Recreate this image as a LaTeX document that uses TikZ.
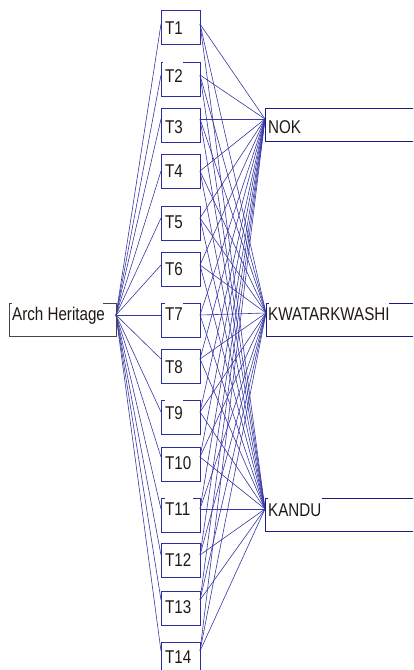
\documentclass[tikz,border=0pt]{standalone}
\usepackage{fontspec}
\setmainfont{Liberation Sans}[FakeStretch=0.82]
\definecolor{edgec}{RGB}{55,55,165}
\definecolor{tboxc}{RGB}{45,45,155}
\definecolor{rboxc}{RGB}{25,25,135}
\definecolor{aboxc}{RGB}{70,70,70}
\definecolor{txtc}{RGB}{30,25,20}
\begin{document}
\begin{tikzpicture}[x=1pt,y=-1pt,
  lbl/.style={inner sep=0pt, text=txtc, font=\fontsize{18.5}{20}\selectfont},
  edge/.style={draw=edgec, line width=0.6pt},
  tbox/.style={draw=tboxc, line width=0.9pt, minimum width=39pt, minimum height=34pt, anchor=north west, inner sep=0pt},
  rbox/.style={draw=rboxc, line width=0.9pt, minimum width=160pt, minimum height=33pt, anchor=north west, inner sep=0pt},
  gap/.style={fill=white}]
\useasboundingbox (0,0) rectangle (413,670);
\clip (0,0) rectangle (413,670);
% attach points
\coordinate (A) at (116,315);
\coordinate (N) at (265,119);
\coordinate (K) at (266,313);
\coordinate (D) at (265,509);
\foreach \i/\a in {1/24,2/75,3/119,4/171,5/218,6/265,7/315,8/359,9/412,10/457,11/509,12/555,13/600,14/651}{
  \coordinate (T\i w) at (161,\a);
  \coordinate (T\i e) at (200,\a);
}
% edges
\foreach \i in {1,...,14}{
  \draw[edge] (A) -- (T\i w);
  \draw[edge] (T\i e) -- (N);
  \draw[edge] (T\i e) -- (K);
  \draw[edge] (T\i e) -- (D);
}
% T boxes
\foreach \i/\t/\b in {1/10/34,2/62/82,3/108/133,4/154/177,5/206/228,6/252/275,7/303/320,8/349/373,9/400/419,10/447/469,11/498/515,12/543/566,13/591/613,14/642/663}{
  \node[tbox] (B\i) at (161,\t) {};
  \node[lbl, anchor=base west] (L\i) at (165,\b) {T\i};
}
% gaps in top borders of some T boxes
\fill[gap] (163,60.5) rectangle (183,63.5);
\fill[gap] (165,301.5) rectangle (183,304.5);
\fill[gap] (165,398.5) rectangle (183,401.5);
\fill[gap] (165,496.5) rectangle (193,499.5);
% source box
\node[draw=aboxc, line width=0.9pt, minimum width=107pt, minimum height=33pt, anchor=north west, inner sep=0pt] (AH) at (9,303) {};
\fill[gap] (12,301.5) rectangle (103,304.5);
\node[lbl, anchor=base west] (AHt) at (12,320) {Arch Heritage};
% target boxes
\node[rbox] (NB) at (265,108) {};
\node[lbl, anchor=base west] (NT) at (268,133) {NOK};
\node[rbox] (KB) at (266,303) {};
\fill[gap] (269,301.5) rectangle (389,304.5);
\node[lbl, anchor=base west] (KT) at (268,320) {KWATARKWASHI};
\node[rbox] (DB) at (265,498) {};
\fill[gap] (268,496.5) rectangle (322,499.5);
\node[lbl, anchor=base west] (DT) at (268,516) {KANDU};
\end{tikzpicture}
\end{document}
